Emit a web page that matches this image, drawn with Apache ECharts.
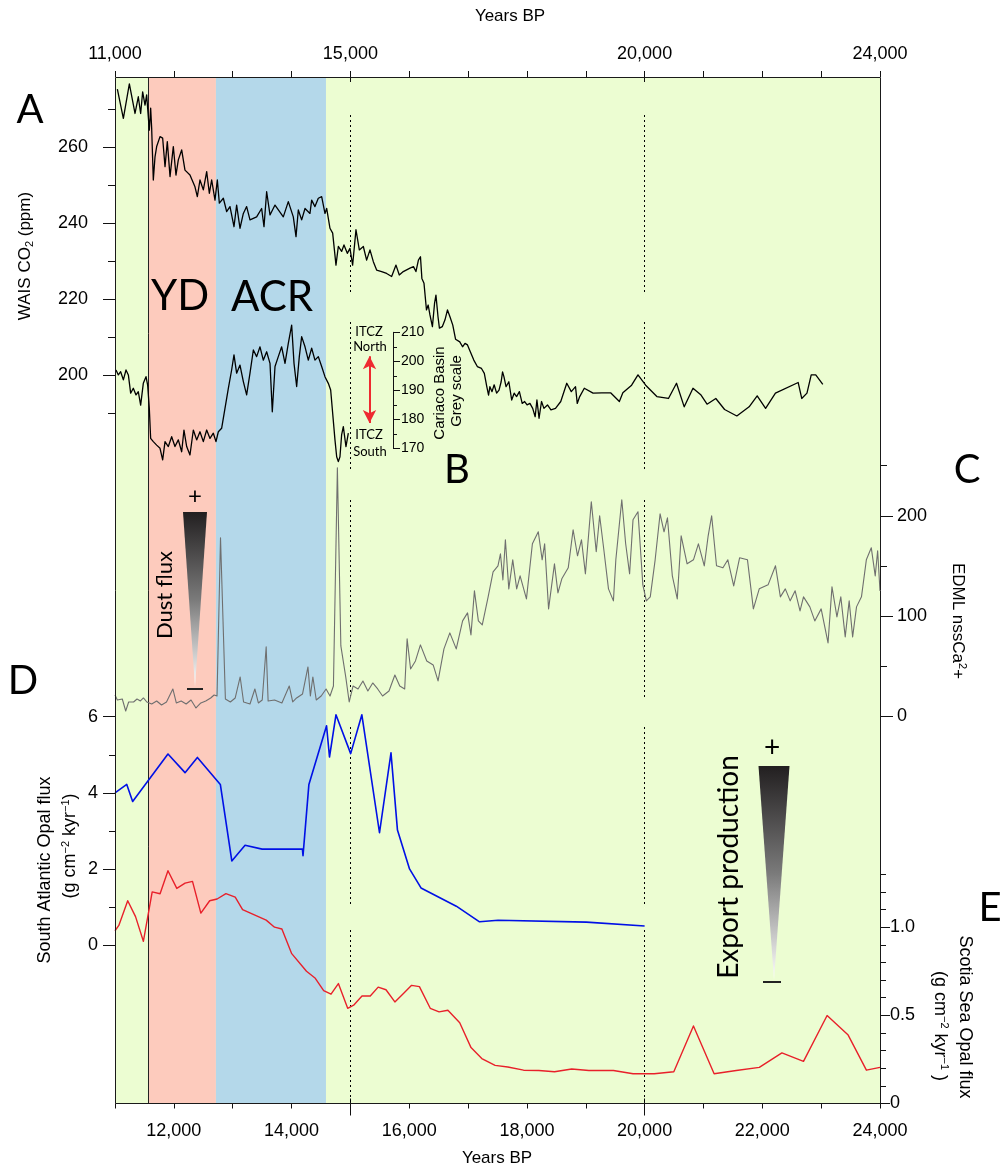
<!DOCTYPE html>
<html>
<head>
<meta charset="utf-8">
<script src="https://cdn.jsdelivr.net/npm/echarts@6/dist/echarts.min.js"></script>
<style>
  html, body { margin: 0; padding: 0; background: #fff; }
  #chart { width: 1002px; height: 1168px; }
</style>
</head>
<body>
<div id="chart"></div>
<script>
// ---------------- data (years BP) ----------------
var ydSpan = [11560, 12715];
var acrSpan = [12715, 14585];
var guideYears = [15000, 20000];
var topLabelYears = [11000, 15000, 20000, 24000];
var itczArrow = [15325, 178.7, 201.7]; // year, south end, north end (grey scale units)

// A: WAIS CO2 (ppm)
var waisCO2 = [
  [11040,275.3],[11142,267.6],[11244,276.7],[11340,268.9],[11396,273.3],[11436,268.9],[11470,274.6],[11510,271.1],
  [11538,273.8],[11583,264.5],[11606,270.3],[11623,265.0],[11651,251.4],[11680,257.5],[11708,260.2],[11765,262.8],
  [11810,262.4],[11850,254.9],[11889,261.5],[11935,252.3],[11991,260.2],[12036,252.7],[12076,256.7],[12133,259.3],
  [12189,254.0],[12274,252.7],[12359,249.6],[12399,247.0],[12444,251.4],[12501,248.8],[12558,253.6],[12603,247.9],
  [12643,251.4],[12699,246.1],[12739,251.4],[12773,245.3],[12841,246.6],[12897,243.1],[12954,244.4],[13022,239.1],
  [13067,244.8],[13124,238.7],[13181,242.6],[13237,244.4],[13294,240.9],[13407,241.7],[13492,243.9],[13532,239.1],
  [13577,248.3],[13634,242.2],[13719,244.8],[13860,241.7],[13945,245.7],[14030,241.7],[14076,236.5],[14115,243.5],
  [14172,240.9],[14229,243.9],[14313,242.6],[14342,246.1],[14398,244.4],[14455,246.6],[14512,247.0],[14568,242.6],
  [14597,243.9],[14653,238.7],[14699,237.4],[14755,229.0],[14795,233.9],[14851,232.6],[14891,234.3],[14948,232.1],
  [14993,233.4],[15038,229.0],[15095,238.3],[15152,233.0],[15220,233.9],[15276,230.3],[15333,233.0],[15390,229.9],
  [15446,227.7],[15531,227.3],[15616,226.8],[15701,226.0],[15775,229.0],[15831,226.4],[15899,227.3],[16013,228.2],
  [16072,228.6],[16114,227.3],[16156,230.3],[16191,231.2],[16215,225.5],[16251,224.2],[16293,217.2],[16322,218.5],
  [16352,215.9],[16394,212.8],[16430,218.9],[16454,221.1],[16489,215.4],[16513,212.4],[16561,212.8],[16608,214.6],
  [16650,217.2],[16692,215.4],[16740,213.2],[16787,209.5],[16859,208.8],[16906,207.5],[16948,208.4],[16990,208.0],
  [17038,206.2],[17097,204.0],[17157,202.3],[17228,201.8],[17276,200.5],[17318,197.0],[17348,194.8],[17371,197.0],
  [17407,195.7],[17443,197.5],[17485,195.3],[17526,196.1],[17562,198.3],[17586,200.9],[17610,199.6],[17645,197.0],
  [17693,198.3],[17741,193.5],[17783,195.3],[17824,194.4],[17872,195.7],[17920,192.6],[17961,193.1],[18003,192.2],
  [18051,192.6],[18098,191.3],[18140,189.1],[18170,193.5],[18206,188.7],[18248,193.1],[18289,191.3],[18349,192.2],
  [18408,190.9],[18486,191.3],[18575,193.1],[18677,197.9],[18754,195.7],[18826,197.0],[18855,192.6],[18897,194.4],
  [18975,196.6],[19124,195.3],[19273,195.4],[19422,195.4],[19571,193.1],[19630,195.4],[19779,197.4],[19887,200.1],
  [20018,197.4],[20208,194.4],[20405,193.9],[20542,197.9],[20673,191.7],[20822,196.6],[20959,194.8],[21061,192.4],
  [21210,193.9],[21359,191.0],[21567,189.3],[21776,191.7],[21913,194.6],[22056,191.3],[22223,195.3],[22610,198.1],
  [22670,193.9],[22759,195.3],[22831,200.1],[22908,200.1],[23028,197.6]
];

// B: Cariaco Basin grey scale
var cariacoGrey = [
  [11017,197.0],[11057,195.3],[11096,196.4],[11142,193.6],[11187,197.0],[11227,195.3],[11266,189.0],[11311,190.7],
  [11357,188.4],[11396,189.5],[11436,184.9],[11481,192.4],[11527,194.7],[11555,191.8],[11583,183.8],[11606,173.4],
  [11651,172.3],[11708,171.1],[11765,170.0],[11810,166.0],[11850,172.3],[11906,170.6],[11963,174.0],[12019,170.6],
  [12076,172.9],[12133,168.8],[12172,176.3],[12218,170.6],[12274,167.7],[12331,176.3],[12388,172.9],[12444,175.7],
  [12501,172.3],[12558,176.3],[12614,173.4],[12671,175.2],[12716,172.3],[12756,175.7],[12812,176.9],[12869,183.8],
  [12926,190.7],[12982,197.0],[13022,202.2],[13067,195.9],[13124,198.7],[13181,193.0],[13237,188.4],[13294,195.9],
  [13351,203.9],[13407,201.6],[13464,205.0],[13520,200.4],[13577,203.3],[13634,199.3],[13673,182.6],[13719,198.2],
  [13775,201.6],[13832,205.0],[13889,199.3],[13945,206.2],[14002,212.5],[14042,199.3],[14087,191.3],[14132,201.6],
  [14172,208.5],[14229,205.0],[14285,200.4],[14342,204.5],[14398,200.4],[14455,201.6],[14512,198.2],[14568,194.7],
  [14625,192.4],[14665,190.1],[14699,182.1],[14738,172.9],[14767,167.1],[14795,165.4],[14823,167.1],[14851,174.6],
  [14880,177.5],[14925,170.6],[14965,175.2]
];

// C: EDML nssCa2+
var edmlCa = [
  [11000,21],[11040,16],[11124,17],[11182,5],[11232,14],[11316,14],[11374,17],[11432,15],[11483,18],[11541,14],
  [11624,12],[11708,15],[11791,11],[11875,14],[11983,27],[12042,13],[12125,15],[12209,12],[12292,16],[12376,8],
  [12459,13],[12542,15],[12626,18],[12684,21],[12734,20],[12793,178],[12876,17],[12960,14],[13043,18],[13127,39],
  [13185,14],[13294,12],[13377,27],[13436,13],[13502,16],[13569,69],[13602,15],[13711,16],[13836,13],[13961,30],
  [14020,14],[14086,18],[14187,22],[14279,49],[14320,20],[14362,39],[14420,16],[14504,20],[14587,27],[14654,20],
  [14712,30],[14779,248],[14838,70],[14921,39],[14980,14],[15046,30],[15130,27],[15213,35],[15297,25],[15380,33],
  [15464,27],[15547,20],[15656,25],[15756,41],[15839,30],[15923,27],[15964,77],[16023,47],[16106,55],[16190,71],
  [16298,55],[16407,51],[16490,35],[16590,67],[16690,83],[16799,67],[16907,95],[16991,103],[17049,81],[17108,125],
  [17175,95],[17241,91],[17341,119],[17425,144],[17508,150],[17550,162],[17592,136],[17634,176],[17692,127],[17759,156],
  [17826,127],[17884,140],[17992,117],[18093,172],[18193,184],[18259,156],[18301,172],[18368,107],[18468,152],[18527,123],
  [18593,137],[18702,148],[18785,186],[18860,160],[18927,176],[18994,142],[19094,214],[19178,164],[19236,200],[19303,168],
  [19386,127],[19470,115],[19511,156],[19612,216],[19678,172],[19745,142],[19803,196],[19887,204],[19970,131],[20029,115],
  [20096,119],[20179,156],[20263,202],[20330,184],[20388,198],[20471,140],[20555,117],[20621,180],[20722,152],[20830,156],
  [20914,172],[21014,150],[21080,180],[21139,200],[21222,150],[21331,148],[21414,156],[21514,130],[21614,158],[21748,156],
  [21848,107],[21948,127],[22098,131],[22224,150],[22307,119],[22391,127],[22474,115],[22558,125],[22641,105],[22700,119],
  [22808,109],[22892,95],[23000,107],[23117,73],[23184,129],[23268,99],[23334,119],[23409,79],[23476,115],[23535,79],
  [23601,109],[23685,119],[23768,156],[23852,168],[23919,140],[23960,165],[24000,125]
];

// D: South Atlantic opal flux (g cm-2 kyr-1)
var atlanticOpal = [
  [11000,4.0],[11200,4.22],[11300,3.77],[11900,5.02],[12190,4.53],[12400,4.93],[12790,4.22],[12985,2.21],
  [13210,2.62],[13500,2.52],[14185,2.52],[14195,2.35],[14295,4.22],[14595,5.76],[14645,4.94],[14755,6.05],
  [15005,5.03],[15195,6.05],[15495,2.95],[15690,5.05],[15800,3.02],[16005,2.0],[16200,1.5],[16800,1.02],
  [17195,0.61],[17510,0.65],[19010,0.6],[20000,0.5]
];

// E: Scotia Sea opal flux (g cm-2 kyr-1)
var scotiaOpal = [
  [11000,0.98],[11065,1.01],[11216,1.15],[11349,1.06],[11482,0.92],[11632,1.20],[11766,1.19],[11900,1.32],
  [12050,1.22],[12191,1.25],[12317,1.26],[12459,1.08],[12609,1.15],[12735,1.16],[12885,1.19],[13043,1.17],
  [13168,1.10],[13569,1.04],[13711,1.00],[13836,0.99],[14003,0.85],[14254,0.75],[14404,0.71],[14546,0.64],
  [14671,0.62],[14796,0.68],[14954,0.54],[15063,0.56],[15197,0.61],[15338,0.61],[15472,0.66],[15605,0.645],
  [15756,0.576],[15906,0.626],[16040,0.67],[16173,0.663],[16357,0.54],[16507,0.52],[16657,0.529],[16858,0.458],
  [17050,0.317],[17233,0.255],[17459,0.216],[17675,0.207],[17943,0.189],[18202,0.187],[18469,0.18],[18761,0.196],
  [19053,0.187],[19470,0.187],[19804,0.169],[20163,0.169],[20496,0.18],[20830,0.44],[21181,0.169],[21557,0.187],
  [21949,0.205],[22333,0.287],[22700,0.239],[23101,0.499],[23459,0.388],[23769,0.189],[24000,0.205]
];

// ---------------- layout ----------------
var W = 1002, H = 1168;
var L = 115, R = 880, T = 77, B = 1103.5;
var INK = '#111';
var FONT = '"Liberation Sans", Arial, Helvetica, sans-serif';
var DISPLAY = 'Lato, "Open Sans", sans-serif';
var guideSpans = [[115, 293], [322, 470], [500, 700], [727, 904], [930, 1103]];

function band(top, bottom) {
  return { left: L, right: W - R, top: top, bottom: H - bottom, containLabel: false, outerBoundsMode: 'none' };
}
function fmtYear(v) { return String(v).replace(/\B(?=(\d{3})+(?!\d))/g, ','); }

var grids = [
  Object.assign(band(T, B), { show: true, backgroundColor: '#ecfdd2', borderWidth: 0 }),
  band(109.3, 413.3),  // A  190..270
  band(332.3, 448.3),  // B  170..210
  band(465.7, 716),    // C  0..250
  band(716.7, 945),    // D  0..6
  band(874.3, 1103.5)  // E  0..1.3
];

var xBase = { type: 'value', min: 11000, max: 24000, splitLine: { show: false } };
var xAxes = [
  Object.assign({}, xBase, { gridIndex: 0, position: 'bottom', interval: 1000,
    axisLine: { show: false }, axisTick: { length: 5, lineStyle: { color: INK } },
    axisLabel: { margin: 19, fontSize: 18, color: '#000', fontFamily: FONT,
      formatter: function (v) { return (v % 2000 === 0 && v > 11000) ? fmtYear(v) : ''; } } }),
  Object.assign({}, xBase, { gridIndex: 0, position: 'top', interval: 1000,
    axisLine: { show: false }, axisTick: { length: 6, lineStyle: { color: INK } },
    axisLabel: { margin: 14, fontSize: 18, color: '#000', fontFamily: FONT, showMinLabel: true, showMaxLabel: true,
      formatter: function (v) { return topLabelYears.indexOf(v) >= 0 ? fmtYear(v) : ''; } } }),
  Object.assign({}, xBase, { gridIndex: 0, position: 'top',
    axisLine: { show: false }, axisLabel: { show: false },
    axisTick: { customValues: guideYears, inside: true, length: 5, lineStyle: { color: INK } } }),
  Object.assign({}, xBase, { gridIndex: 0, position: 'bottom',
    axisLine: { show: false }, axisLabel: { show: false },
    axisTick: { customValues: guideYears, length: 12, lineStyle: { color: INK } } }),
  Object.assign({}, xBase, { gridIndex: 0, position: 'bottom',
    axisLine: { show: false }, axisLabel: { show: false },
    axisTick: { customValues: guideYears, inside: true, length: 5, lineStyle: { color: INK } } })
];
for (var g = 1; g <= 5; g++) xAxes.push(Object.assign({}, xBase, { gridIndex: g, show: false }));

function panelAxes(gi, side, min, max, step, majors, fmt, minorLen, majorLen, margin, fontSize, extra) {
  extra = extra || {};
  var common = { type: 'value', gridIndex: gi, position: side, min: min, max: max,
    offset: extra.offset || 0, splitLine: { show: false } };
  return [
    Object.assign({}, common, { interval: step,
      axisLine: { show: !!extra.line, lineStyle: { color: INK, width: 1 } },
      axisTick: { inside: !!extra.inside, length: minorLen, lineStyle: { color: INK } },
      axisLabel: { show: false } }),
    Object.assign({}, common, {
      axisLine: { show: false },
      axisTick: { customValues: majors, inside: !!extra.inside, length: majorLen, lineStyle: { color: INK } },
      axisLabel: { customValues: majors, inside: !!extra.inside, formatter: fmt, margin: margin,
        fontSize: fontSize, color: '#000', fontFamily: FONT } })
  ];
}

var yAxes = [{ type: 'value', gridIndex: 0, min: T, max: B, inverse: true, show: false }]
  .concat(panelAxes(1, 'left', 190, 270, 10, [200, 220, 240, 260], function (v) { return String(v); }, 7, 12, 27, 18))
  .concat(panelAxes(2, 'left', 170, 210, 5, [170, 180, 190, 200, 210], function (v) { return String(v); }, 4, 7, 8, 14,
    { offset: -(393 - L), inside: true, line: true }))
  .concat(panelAxes(3, 'right', 0, 250, 50, [0, 100, 200], function (v) { return String(v); }, 7, 13, 17, 18))
  .concat(panelAxes(4, 'left', 0, 6, 1, [0, 2, 4, 6], function (v) { return String(v); }, 6, 12, 17, 18))
  .concat(panelAxes(5, 'right', 0, 1.3, 0.1, [0, 0.5, 1.0], function (v) { return v === 0 ? '0' : v.toFixed(1); }, 6, 10, 10, 18));

// guide lines: solid edge of YD band + dotted year markers in each panel
var guideLines = [[{ coord: [ydSpan[0], T], lineStyle: { type: 'solid', color: '#222', width: 1 } }, { coord: [ydSpan[0], B] }]];
guideYears.forEach(function (yr) {
  guideSpans.forEach(function (s) {
    guideLines.push([{ coord: [yr, s[0]], lineStyle: { type: [2, 3], color: '#000', width: 1 } }, { coord: [yr, s[1]] }]);
  });
});

function lineSeries(name, data, xi, yi, color, width) {
  return { name: name, type: 'line', xAxisIndex: xi, yAxisIndex: yi, data: data, showSymbol: false, symbol: 'none',
    clip: false, silent: true, z: 5, lineStyle: { color: color, width: width, join: 'round' } };
}

var cariaco = lineSeries('Cariaco', cariacoGrey, 6, 3, '#000', 1.3);
cariaco.markLine = {
  silent: true, symbol: ['arrow', 'arrow'], symbolSize: [10, 13], label: { show: false },
  lineStyle: { color: '#ee2a30', width: 2, type: 'solid' },
  data: [[{ coord: [itczArrow[0], itczArrow[1]] }, { coord: [itczArrow[0], itczArrow[2]] }]]
};

function txt(x, y, text, size, opt) {
  opt = opt || {};
  var st = { text: text, fontSize: size, fontFamily: opt.font || FONT, fill: opt.fill || '#000',
    align: 'center', verticalAlign: 'middle', textAlign: 'center', textVerticalAlign: 'middle' };
  if (opt.rich) st.rich = opt.rich;
  return { type: 'text', x: x, y: y, rotation: opt.rot || 0, z: 100, silent: true, style: st };
}
var sup = { fontSize: 11, verticalAlign: 'top', lineHeight: 20, fontFamily: FONT };
var sub = { fontSize: 11, verticalAlign: 'bottom', lineHeight: 20, fontFamily: FONT };
var UP = Math.PI / 2, DOWN = -Math.PI / 2;
var wedge = function (cx, top, halfW, tip) {
  return { type: 'polygon', z: 100, silent: true,
    shape: { points: [[cx - halfW, top], [cx + halfW, top], [cx, tip]] },
    style: { fill: new echarts.graphic.LinearGradient(0, 0, 0, 1, [
      { offset: 0, color: '#221f20' }, { offset: 0.5, color: '#7a7a7a' }, { offset: 1, color: '#ffffff' }]) } };
};
var dash = function (cx, y, half) {
  return { type: 'line', z: 100, silent: true, shape: { x1: cx - half, y1: y, x2: cx + half, y2: y },
    style: { stroke: '#222', lineWidth: 2 } };
};

var graphics = [
  { type: 'rect', z: 90, silent: true, shape: { x: L + 0.5, y: T + 0.5, width: R - L, height: B - T - 0.5 },
    style: { fill: null, stroke: '#1a1a1a', lineWidth: 1 } },
  txt(510, 16, 'Years BP', 17),
  txt(497, 1158, 'Years BP', 17),
  txt(30, 110, 'A', 40, { font: DISPLAY }),
  txt(457, 470, 'B', 40, { font: DISPLAY }),
  txt(967, 470, 'C', 40, { font: DISPLAY }),
  txt(23, 681, 'D', 40, { font: DISPLAY }),
  txt(990, 908, 'E', 40, { font: DISPLAY }),
  txt(180, 296, 'YD', 42, { font: DISPLAY }),
  txt(272, 297, 'ACR', 42, { font: DISPLAY }),
  txt(25, 256, 'WAIS CO{s|2} (ppm)', 17, { rot: UP, rich: { s: sub } }),
  txt(45, 870, 'South Atlantic Opal flux', 18, { rot: UP }),
  txt(70, 846, '(g cm{p|\u22122} kyr{p|\u22121})', 18, { rot: UP, rich: { p: sup } }),
  txt(958, 621, 'EDML nssCa{p|2}+', 17, { rot: DOWN, rich: { p: sup } }),
  txt(965, 1017, 'Scotia Sea Opal flux', 18, { rot: DOWN }),
  txt(940, 1026, '(g cm{p|\u22122} kyr{p|\u22121} )', 18, { rot: DOWN, rich: { p: sup } }),
  txt(440, 393, 'Cariaco Basin', 15, { rot: UP }),
  txt(457, 391, 'Grey scale', 15, { rot: UP }),
  txt(369, 332, 'ITCZ', 13, { font: DISPLAY }),
  txt(370, 347, 'North', 13, { font: DISPLAY }),
  txt(369, 435, 'ITCZ', 13, { font: DISPLAY }),
  txt(370, 452, 'South', 13, { font: DISPLAY }),
  txt(165, 595, 'Dust flux', 22, { font: DISPLAY, rot: UP }),
  wedge(195, 512, 12, 687),
  txt(195, 496, '+', 24, { font: DISPLAY }),
  dash(195, 689, 8),
  txt(729, 867, 'Export production', 28, { font: DISPLAY, rot: UP }),
  wedge(774, 766, 15.5, 980),
  txt(772, 748, '+', 28, { font: DISPLAY }),
  dash(772, 982, 9)
];

var chart = echarts.init(document.getElementById('chart'), null, { renderer: 'canvas' });
chart.setOption({
  animation: false,
  backgroundColor: '#ffffff',
  grid: grids,
  xAxis: xAxes,
  yAxis: yAxes,
  graphic: { elements: graphics },
  series: [
    { type: 'line', xAxisIndex: 0, yAxisIndex: 0, data: [], silent: true, z: 1,
      markArea: { silent: true, label: { show: false },
        data: [
          [{ xAxis: ydSpan[0], itemStyle: { color: '#fdcbbd' } }, { xAxis: ydSpan[1] }],
          [{ xAxis: acrSpan[0], itemStyle: { color: '#b4d8ea' } }, { xAxis: acrSpan[1] }]
        ] },
      markLine: { silent: true, symbol: ['none', 'none'], label: { show: false }, data: guideLines } },
    lineSeries('WAIS CO2', waisCO2, 5, 1, '#000', 1.3),
    cariaco,
    lineSeries('EDML nssCa', edmlCa, 7, 5, '#6f6f6f', 1.1),
    lineSeries('South Atlantic opal', atlanticOpal, 8, 7, '#0010e6', 1.6),
    lineSeries('Scotia Sea opal', scotiaOpal, 9, 9, '#e8202a', 1.4)
  ]
});
</script>
</body>
</html>
